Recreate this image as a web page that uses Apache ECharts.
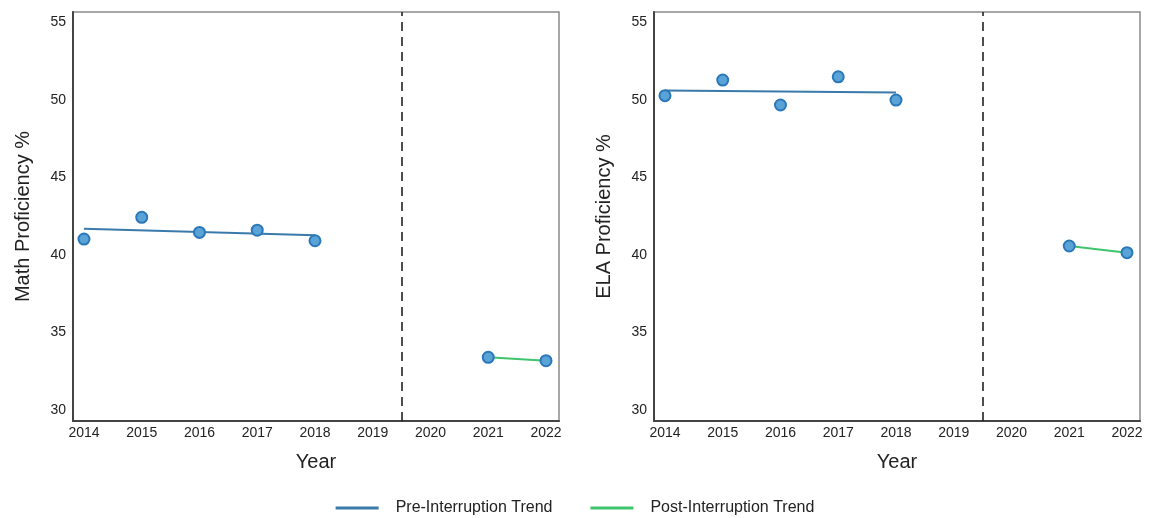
<!DOCTYPE html>
<html>
<head>
<meta charset="utf-8">
<script src="https://cdn.jsdelivr.net/npm/echarts@6/dist/echarts.min.js"></script>
<style>
  html, body { margin: 0; padding: 0; background: #fff; }
  #chart { width: 1150px; height: 518px; }
</style>
</head>
<body>
<div id="chart"></div>
<script>
// Yearly proficiency before and after the interruption
const preYears = [2014, 2015, 2016, 2017, 2018];
const postYears = [2021, 2022];
const yearTicks = [2014, 2015, 2016, 2017, 2018, 2019, 2020, 2021, 2022];
const pctTicks = [30, 35, 40, 45, 50, 55];
const interruptionYear = 2019.5;

const mathPre = [41.03, 42.43, 41.46, 41.6, 40.92];
const mathPost = [33.4, 33.18];
const mathPreTrend = [41.70, 41.28];   // fitted values at 2014 and 2018
const mathPostTrend = [33.4, 33.18];   // fitted values at 2021 and 2022

const elaPre = [50.28, 51.29, 49.68, 51.5, 50.0];
const elaPost = [40.58, 40.15];
const elaPreTrend = [50.62, 50.48];
const elaPostTrend = [40.58, 40.15];

const panels = [
  { title: 'Math Proficiency %', pre: mathPre, post: mathPost, preTrend: mathPreTrend, postTrend: mathPostTrend },
  { title: 'ELA Proficiency %', pre: elaPre, post: elaPost, preTrend: elaPreTrend, postTrend: elaPostTrend }
];

const FONT = '"Liberation Sans", Arial, sans-serif';
const PRE_COLOR = '#3a7aab';
const POST_COLOR = '#3ec46d';
const MARK_FILL = '#5aa3d6';
const MARK_EDGE = '#2a78ba';

const zip = (xs, ys) => xs.map((x, i) => [x, ys[i]]);

const grids = [], xAxes = [], yAxes = [], series = [];
panels.forEach((p, i) => {
  grids.push({ left: 73 + i * 581, top: 12, width: 486, height: 409, show: true,
    borderColor: '#8a8a8a', borderWidth: 1.5 });
  xAxes.push({
    type: 'value', gridIndex: i, min: 2013.81, max: 2022.225,
    name: 'Year', nameLocation: 'middle', nameGap: 31,
    nameTextStyle: { fontFamily: FONT, fontSize: 20, color: '#222' },
    axisLine: { show: true, onZero: false, lineStyle: { color: '#444', width: 2 } },
    axisTick: { show: false },
    splitLine: { show: false },
    axisLabel: { customValues: yearTicks, margin: 5, fontFamily: FONT, fontSize: 14, color: '#222',
      formatter: v => String(Math.round(v)) }
  });
  yAxes.push({
    type: 'value', gridIndex: i, min: 29.29, max: 55.68,
    name: p.title, nameLocation: 'middle', nameGap: 40,
    nameTextStyle: { fontFamily: FONT, fontSize: 20, color: '#222' },
    axisLine: { show: true, onZero: false, lineStyle: { color: '#444', width: 2 } },
    axisTick: { show: false },
    splitLine: { show: false },
    axisLabel: { customValues: pctTicks, margin: 7, fontFamily: FONT, fontSize: 14, color: '#222' }
  });
  series.push({
    name: 'Pre-Interruption Trend', type: 'line', xAxisIndex: i, yAxisIndex: i,
    data: zip([preYears[0], preYears[preYears.length - 1]], p.preTrend),
    symbol: 'none', lineStyle: { color: PRE_COLOR, width: 2 }, itemStyle: { color: PRE_COLOR },
    z: 2, silent: true,
    markLine: {
      silent: true, symbol: 'none', label: { show: false },
      lineStyle: { color: '#222', type: [9, 6], width: 1.6 },
      data: [{ xAxis: interruptionYear }]
    }
  });
  series.push({
    name: 'Post-Interruption Trend', type: 'line', xAxisIndex: i, yAxisIndex: i,
    data: zip(postYears, p.postTrend),
    symbol: 'none', lineStyle: { color: POST_COLOR, width: 2 }, itemStyle: { color: POST_COLOR },
    z: 2, silent: true
  });
  series.push({
    name: 'pre-points', type: 'scatter', xAxisIndex: i, yAxisIndex: i,
    data: zip(preYears, p.pre), symbolSize: 11, z: 3,
    itemStyle: { color: MARK_FILL, borderColor: MARK_EDGE, borderWidth: 2, opacity: 1 }
  });
  series.push({
    name: 'post-points', type: 'scatter', xAxisIndex: i, yAxisIndex: i,
    data: zip(postYears, p.post), symbolSize: 11, z: 3,
    itemStyle: { color: MARK_FILL, borderColor: MARK_EDGE, borderWidth: 2, opacity: 1 }
  });
});

const chart = echarts.init(document.getElementById('chart'), null, { renderer: 'canvas' });
chart.setOption({
  animation: false,
  backgroundColor: '#fff',
  grid: grids,
  xAxis: xAxes,
  yAxis: yAxes,
  legend: {
    data: ['Pre-Interruption Trend', 'Post-Interruption Trend'],
    bottom: -3, left: 'center',
    icon: 'rect', itemWidth: 43, itemHeight: 3, itemGap: 38,
    textStyle: { fontFamily: FONT, fontSize: 16, color: '#222', padding: [0, 0, 0, 12] }
  },
  series: series
});
</script>
</body>
</html>
